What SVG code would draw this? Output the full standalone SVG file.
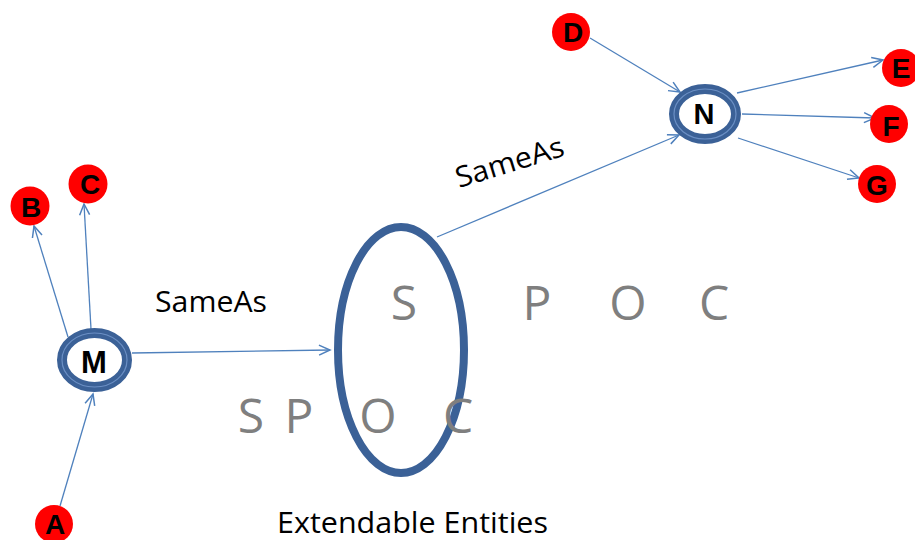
<svg xmlns="http://www.w3.org/2000/svg" width="915" height="540" viewBox="0 0 915 540">
<defs>
<marker id="arr" markerUnits="userSpaceOnUse" markerWidth="14" markerHeight="14" refX="12" refY="6" orient="auto" viewBox="0 0 14 12">
<path d="M1,1 L12,6 L1,11" fill="none" stroke="#4f81bd" stroke-width="1.5"/>
</marker>
<style>
.edge{fill:none;stroke:#4f81bd;stroke-width:1.3;marker-end:url(#arr)}
.red{fill:#ff0000}
.lt{font-family:"Liberation Sans",Arial,sans-serif;font-weight:bold;font-size:28px;fill:#000;text-anchor:middle}
.ring{fill:#fff;stroke:#3b6197;stroke-width:10}
.ringhl{fill:none;stroke:#6b8fc4;stroke-width:1.2}
.lbl{font-family:"Open Sans","Liberation Sans",sans-serif;font-size:29px;fill:#000}
.spoc{font-family:"Open Sans","Liberation Sans",sans-serif;font-size:48px;fill:#7f7f7f;text-anchor:middle}
</style>
</defs>
<rect width="915" height="540" fill="#fff"/>
<g id="connectors">
<line class="edge" x1="60" y1="506" x2="93" y2="394"/>
<line class="edge" x1="68" y1="337" x2="34" y2="226"/>
<line class="edge" x1="91" y1="329" x2="84" y2="204"/>
<line class="edge" x1="132" y1="353" x2="330" y2="350"/>
<line class="edge" x1="437" y1="237" x2="679" y2="135"/>
<line class="edge" x1="590" y1="38" x2="680" y2="92"/>
<line class="edge" x1="737" y1="93" x2="883" y2="60"/>
<line class="edge" x1="742" y1="114" x2="875" y2="118"/>
<line class="edge" x1="738" y1="138" x2="859" y2="178"/>
<text class="lbl" x="155" y="312" textLength="112" lengthAdjust="spacingAndGlyphs">SameAs</text>
<text class="lbl" transform="translate(459,188) rotate(-17)" textLength="112" lengthAdjust="spacingAndGlyphs">SameAs</text>
</g>
<g id="entities">
<ellipse cx="401" cy="350" rx="63" ry="123" fill="none" stroke="#3b6197" stroke-width="8"/>
<text class="spoc" x="404" y="320">S</text>
<text class="spoc" x="537" y="320">P</text>
<text class="spoc" x="628" y="320">O</text>
<text class="spoc" x="714" y="320">C</text>
<text class="spoc" x="251" y="433">S</text>
<text class="spoc" x="299" y="433">P</text>
<text class="spoc" x="378" y="433">O</text>
<text class="spoc" x="458" y="433">C</text>
<text class="lbl" x="277" y="533" textLength="271" lengthAdjust="spacingAndGlyphs">Extendable Entities</text>
</g>
<g id="node-M">
<ellipse class="ring" cx="94.5" cy="360" rx="32.5" ry="27"/>
<ellipse class="ringhl" cx="94.5" cy="360" rx="32.5" ry="27"/>
<text class="lt" x="94" y="373" style="font-size:31px">M</text>
</g>
<g id="node-N">
<ellipse class="ring" cx="705" cy="114" rx="31" ry="25"/>
<ellipse class="ringhl" cx="705" cy="114" rx="31" ry="25"/>
<text class="lt" x="704" y="124" style="font-size:29px">N</text>
</g>
<g id="node-A"><circle class="red" cx="54" cy="524" r="19"/><text class="lt" x="55" y="534">A</text></g>
<g id="node-B"><circle class="red" cx="30" cy="206" r="19.5"/><text class="lt" x="31" y="217">B</text></g>
<g id="node-C"><circle class="red" cx="88" cy="184" r="19.5"/><text class="lt" x="90" y="194">C</text></g>
<g id="node-D"><circle class="red" cx="571" cy="32" r="19"/><text class="lt" x="573" y="42">D</text></g>
<g id="node-E"><circle class="red" cx="901" cy="68" r="19"/><text class="lt" x="901" y="78">E</text></g>
<g id="node-F"><circle class="red" cx="889" cy="124" r="19"/><text class="lt" x="891" y="136">F</text></g>
<g id="node-G"><circle class="red" cx="877" cy="184" r="19"/><text class="lt" x="877" y="195">G</text></g>
</svg>
